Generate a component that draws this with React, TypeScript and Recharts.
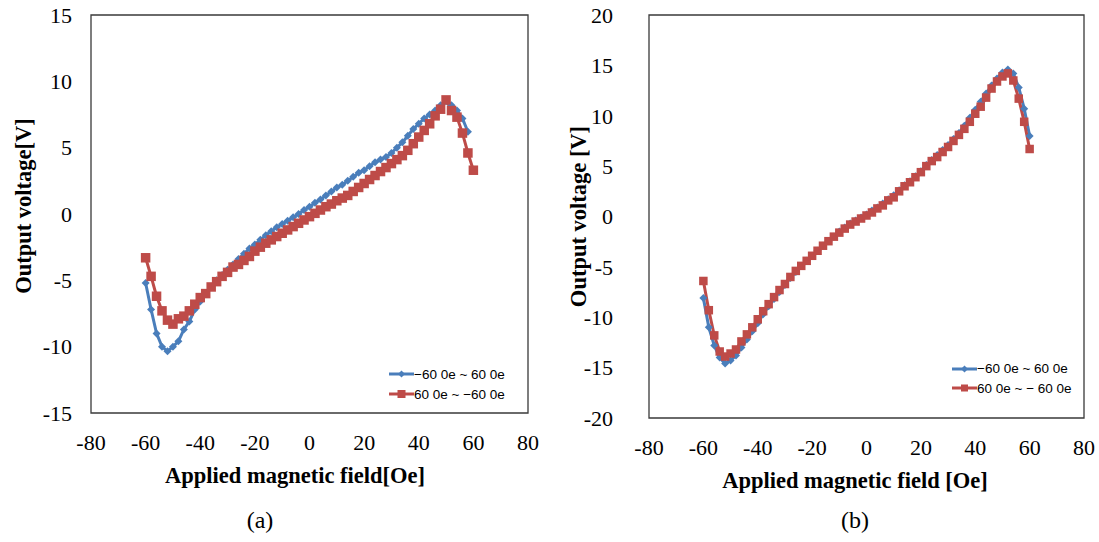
import React from 'react';
import {
  LineChart,
  Line,
  XAxis,
  YAxis,
  Legend,
  ReferenceArea,
} from 'recharts';

// applied field steps (Oe)
const fieldOe = [
  -60, -58, -56, -54, -52, -50, -48, -46, -44, -42,
  -40, -38, -36, -34, -32, -30, -28, -26, -24, -22,
  -20, -18, -16, -14, -12, -10, -8, -6, -4, -2,
  0, 2, 4, 6, 8, 10, 12, 14, 16, 18,
  20, 22, 24, 26, 28, 30, 32, 34, 36, 38,
  40, 42, 44, 46, 48, 50, 52, 54, 56, 58, 60,
];

// (a) sweep up, ends before 60
const upA = [
  -5.2, -7.2, -9.0, -10.0, -10.35, -10.0, -9.6, -8.7, -8.1, -7.2,
  -6.6, -6.0, -5.5, -5.0, -4.6, -4.2, -3.8, -3.4, -3.0, -2.6,
  -2.3, -1.95, -1.6, -1.3, -1.0, -0.75, -0.5, -0.25, 0.0, 0.3,
  0.55, 0.85, 1.1, 1.4, 1.7, 2.0, 2.2, 2.5, 2.8, 3.1,
  3.3, 3.6, 3.9, 4.1, 4.3, 4.6, 5.0, 5.4, 5.9, 6.4,
  6.8, 7.2, 7.5, 7.8, 8.2, 8.5, 8.2, 7.8, 7.2, 6.2,
];
const downA = [
  -3.3, -4.7, -6.2, -7.3, -8.0, -8.3, -7.9, -7.7, -7.3, -6.8,
  -6.3, -6.0, -5.5, -5.1, -4.7, -4.4, -4.0, -3.8, -3.5, -3.2,
  -2.8, -2.5, -2.2, -1.95, -1.7, -1.45, -1.2, -0.95, -0.7, -0.45,
  -0.2, 0.05, 0.3, 0.55, 0.75, 1.0, 1.2, 1.4, 1.7, 2.0,
  2.3, 2.6, 2.9, 3.2, 3.5, 3.8, 4.1, 4.4, 4.8, 5.3,
  5.8, 6.3, 6.8, 7.4, 7.9, 8.6, 7.8, 7.3, 6.1, 4.6, 3.3,
];

// (b)
const upB = [
  -8.1, -11.0, -12.8, -14.0, -14.6, -14.3, -13.8, -13.0, -12.2, -11.4,
  -10.6, -9.7, -8.9, -8.2, -7.5, -6.8, -6.1, -5.5, -4.9, -4.4,
  -3.9, -3.4, -2.9, -2.45, -2.0, -1.5, -1.1, -0.7, -0.4, -0.1,
  0.2, 0.6, 0.9, 1.3, 1.7, 2.1, 2.6, 3.1, 3.5, 4.0,
  4.5, 5.1, 5.6, 6.1, 6.6, 7.1, 7.7, 8.3, 9.0, 9.8,
  10.6, 11.4, 12.2, 13.0, 13.7, 14.3, 14.6, 14.2, 12.8, 10.7, 8.0,
];
const downB = [
  -6.4, -9.3, -11.8, -13.4, -13.9, -13.6, -13.2, -12.4, -11.7, -11.0,
  -10.2, -9.4, -8.7, -8.0, -7.3, -6.7, -6.0, -5.4, -4.9, -4.4,
  -3.9, -3.4, -2.9, -2.45, -2.0, -1.6, -1.2, -0.8, -0.5, -0.2,
  0.1, 0.4, 0.8, 1.1, 1.6, 1.9, 2.5, 3.0, 3.4, 3.9,
  4.4, 5.0, 5.5, 5.9, 6.4, 6.9, 7.5, 8.1, 8.7, 9.4,
  10.2, 10.9, 11.8, 12.7, 13.4, 13.9, 14.2, 13.5, 11.7, 9.4, 6.7,
];

const xTicks = [-80, -60, -40, -20, 0, 20, 40, 60, 80];
const yTicksA = [-15, -10, -5, 0, 5, 10, 15];
const yTicksB = [-20, -15, -10, -5, 0, 5, 10, 15, 20];

const namesA = ['\u221260 0e ~ 60 0e', '60 0e ~ \u221260 0e'];
const namesB = ['\u221260 0e ~ 60 0e', '60 0e ~ \u2212 60 0e'];

const BLUE = '#4a7ebb';
const RED = '#be4b48';
const SERIF = "'Times New Roman', 'Liberation Serif', serif";
const SANS = "Arial, 'Liberation Sans', sans-serif";

const toPoints = (vals: number[]) => vals.map((v, i) => ({ x: fieldOe[i], v }));

const diamondDot = (r: number) => (p: any) => {
  const { cx, cy, index } = p;
  if (cx == null || cy == null) return <g key={index} />;
  return (
    <polygon
      key={index}
      points={`${cx},${cy - r} ${cx + r},${cy} ${cx},${cy + r} ${cx - r},${cy}`}
      fill={BLUE}
    />
  );
};

const squareDot = (s: number) => (p: any) => {
  const { cx, cy, index } = p;
  if (cx == null || cy == null) return <g key={index} />;
  return <rect key={index} x={cx - s / 2} y={cy - s / 2} width={s} height={s} fill={RED} />;
};

function LegendBox({ names, rowH, sq }: { names: string[]; rowH: number; sq: number }) {
  return (
    <div style={{ fontFamily: SANS, fontSize: 13.5, color: '#000', whiteSpace: 'nowrap' }}>
      {names.map((n, i) => (
        <div key={n} style={{ display: 'flex', alignItems: 'center', height: rowH }}>
          <svg width={25} height={12} style={{ display: 'block', flex: 'none' }}>
            <line x1={0} y1={6} x2={25} y2={6} stroke={i === 0 ? BLUE : RED} strokeWidth={3} />
            {i === 0 ? (
              <polygon points="12.5,2.5 16,6 12.5,9.5 9,6" fill={BLUE} />
            ) : (
              <rect x={12.5 - sq / 2} y={6 - sq / 2} width={sq} height={sq} fill={RED} />
            )}
          </svg>
          <span>{n}</span>
        </div>
      ))}
    </div>
  );
}

interface PanelProps {
  up: number[];
  down: number[];
  yTicks: number[];
  yMax: number;
  names: string[];
  yLabel: string;
  xLabel: string;
  axisW: number;
  plotH: number;
  right: number;
  tickGap: number;
  yLabelDx: number;
  yLabelDy: number;
  xLabelDx: number;
  xLabelDy: number;
  legendLeft: number;
  legendTop: number;
  legendRow: number;
  sq: number;
}

function Panel(p: PanelProps) {
  const W = 549;
  const H = 542;
  const top = 15;
  const xAxisH = 70;
  return (
    <LineChart
      width={W}
      height={H}
      margin={{ top, right: p.right, left: 0, bottom: H - top - p.plotH - xAxisH }}
    >
      <XAxis
        dataKey="x"
        type="number"
        domain={[-80, 80]}
        ticks={xTicks}
        interval={0}
        axisLine={false}
        tickLine={false}
        tickSize={0}
        tickMargin={21}
        height={xAxisH}
        tick={{ fontSize: 22, fontFamily: SERIF, fill: '#000' }}
        label={{
          value: p.xLabel,
          position: 'center',
          dx: p.xLabelDx,
          dy: p.xLabelDy,
          fontSize: 22.5,
          fontWeight: 'bold',
          fontFamily: SERIF,
          fill: '#000',
        }}
      />
      <YAxis
        type="number"
        domain={[-p.yMax, p.yMax]}
        ticks={p.yTicks}
        interval={0}
        axisLine={false}
        tickLine={false}
        tickSize={0}
        tickMargin={p.tickGap}
        width={p.axisW}
        tick={{ fontSize: 22, fontFamily: SERIF, fill: '#000' }}
        label={{
          value: p.yLabel,
          position: 'center',
          angle: -90,
          dx: p.yLabelDx,
          dy: p.yLabelDy,
          fontSize: 22.5,
          fontWeight: 'bold',
          fontFamily: SERIF,
          fill: '#000',
        }}
      />
      <ReferenceArea
        x1={-80}
        x2={80}
        y1={-p.yMax}
        y2={p.yMax}
        fill="none"
        stroke="#3a3a3a"
        strokeWidth={1.3}
      />
      <Line
        data={toPoints(p.up)}
        dataKey="v"
        name={p.names[0]}
        stroke={BLUE}
        strokeWidth={3}
        dot={diamondDot(4)}
        isAnimationActive={false}
      />
      <Line
        data={toPoints(p.down)}
        dataKey="v"
        name={p.names[1]}
        stroke={RED}
        strokeWidth={3}
        dot={squareDot(p.sq)}
        isAnimationActive={false}
      />
      <Legend
        layout="vertical"
        align="center"
        verticalAlign="middle"
        wrapperStyle={{ left: p.legendLeft, top: p.legendTop, width: 150 }}
        content={() => <LegendBox names={p.names} rowH={p.legendRow} sq={p.sq - 1.5} />}
      />
    </LineChart>
  );
}

export default function App() {
  return (
    <div
      style={{
        position: 'absolute',
        left: 0,
        top: 0,
        width: 1099,
        height: 542,
        background: '#fff',
        overflow: 'hidden',
      }}
    >
      <div style={{ position: 'absolute', left: 0, top: 0 }}>
        <Panel
          up={upA}
          down={downA}
          yTicks={yTicksA}
          yMax={15}
          names={namesA}
          yLabel="Output voltage[V]"
          xLabel="Applied magnetic field[Oe]"
          axisW={91}
          plotH={398}
          right={21}
          tickGap={19}
          yLabelDx={-22.5}
          yLabelDy={-8}
          xLabelDx={-14.5}
          xLabelDy={27}
          legendLeft={389}
          legendTop={364}
          legendRow={20}
          sq={9.5}
        />
      </div>
      <div style={{ position: 'absolute', left: 549, top: 0 }}>
        <Panel
          up={upB}
          down={downB}
          yTicks={yTicksB}
          yMax={20}
          names={namesB}
          yLabel="Output voltage [V]"
          xLabel="Applied magnetic field [Oe]"
          axisW={100}
          plotH={403}
          right={14}
          tickGap={36}
          yLabelDx={-20.5}
          yLabelDy={0}
          xLabelDx={-11.5}
          xLabelDy={27}
          legendLeft={403}
          legendTop={359}
          legendRow={19.5}
          sq={8.5}
        />
      </div>
      <div
        style={{
          position: 'absolute',
          left: 220,
          width: 80,
          top: 507,
          textAlign: 'center',
          fontFamily: SERIF,
          fontSize: 24,
        }}
      >
        (a)
      </div>
      <div
        style={{
          position: 'absolute',
          left: 815,
          width: 80,
          top: 507,
          textAlign: 'center',
          fontFamily: SERIF,
          fontSize: 24,
        }}
      >
        (b)
      </div>
    </div>
  );
}
